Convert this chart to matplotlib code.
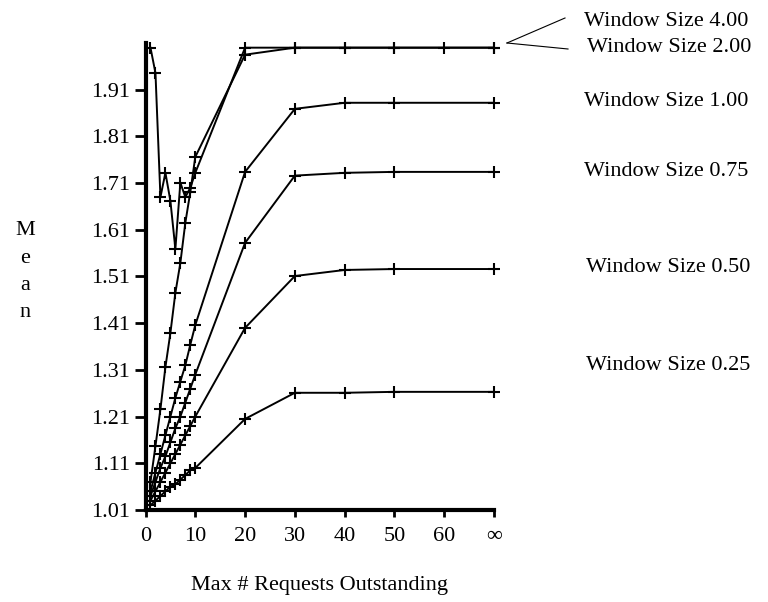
import numpy as np
import matplotlib
matplotlib.use("Agg")
import matplotlib.pyplot as plt

plt.rcParams['font.family'] = ['Liberation Serif', 'DejaVu Serif']

# x = max requests outstanding (70 stands for infinity)
x_main = [1, 2, 3, 4, 5, 6, 7, 8, 9, 10, 20, 30, 40, 50, 70]
x_w400 = [1, 2, 3, 4, 5, 6, 7, 8, 9, 10, 20, 30, 40, 50, 60, 70]

w400 = [2.00, 1.946, 1.68, 1.732, 1.672, 1.569, 1.711, 1.68, 1.70, 1.732,
        2.00, 2.00, 2.00, 2.00, 2.00, 2.00]
w200 = [1.07, 1.147, 1.226, 1.316, 1.389, 1.475, 1.539, 1.625, 1.691, 1.766,
        1.985, 2.00, 2.00, 2.00, 2.00]
w100 = [1.05, 1.09, 1.13, 1.17, 1.21, 1.25, 1.285, 1.32, 1.364, 1.406,
        1.734, 1.869, 1.882, 1.882, 1.882]
w075 = [1.04, 1.07, 1.10, 1.125, 1.155, 1.185, 1.21, 1.24, 1.27, 1.30,
        1.582, 1.726, 1.732, 1.734, 1.734]
w050 = [1.03, 1.05, 1.07, 1.09, 1.11, 1.13, 1.15, 1.17, 1.19, 1.21,
        1.40, 1.511, 1.524, 1.526, 1.526]
w025 = [1.02, 1.03, 1.04, 1.05, 1.06, 1.065, 1.075, 1.085, 1.095, 1.10,
        1.205, 1.261, 1.261, 1.263, 1.263]

x_ticks = [0, 10, 20, 30, 40, 50, 60, 70]
x_tick_labels = ["0", "10", "20", "30", "40", "50", "60", "\u221e"]
y_ticks = [1.01, 1.11, 1.21, 1.31, 1.41, 1.51, 1.61, 1.71, 1.81, 1.91]

W, H = 768, 602
fig = plt.figure(figsize=(W / 100, H / 100), dpi=100)
ax = fig.add_axes([145.5 / W, 1 - 510 / H, (494 - 145.5) / W, (510 - 43) / H])

style = dict(color="black", lw=1.4, marker="+", ms=8, mew=1.5, clip_on=False)
ax.plot(x_w400, w400, **style)
ax.plot(x_main, w200, **style)
ax.plot(x_main, w100, **style)
ax.plot(x_main, w075, **style)
ax.plot(x_main, w050, **style)
ax.plot(x_main, w025, **style)

ax.set_xlim(0, 70)
ax.set_ylim(1.01, 2.01)
ax.set_xticks(x_ticks)
ax.set_xticklabels(x_tick_labels)
ax.set_yticks(y_ticks)
ax.set_yticklabels(["%.2f" % v for v in y_ticks])
ax.tick_params(axis="both", direction="out", width=2, labelsize=16, color="black")
ax.tick_params(axis="x", length=5, pad=7)
ax.tick_params(axis="y", length=8, pad=3)

for side in ["top", "right"]:
    ax.spines[side].set_visible(False)
for side in ["left", "bottom"]:
    ax.spines[side].set_linewidth(3)

ax.set_xlabel("Max # Requests Outstanding", fontsize=16, labelpad=22)
ax.set_ylabel("M\ne\na\nn", fontsize=16, rotation=0, ha="center", va="center",
              linespacing=1.6)
ax.yaxis.set_label_coords(-0.346, 0.51)

# series labels to the right
labels = [("Window Size 4.00", 584, 21), ("Window Size 2.00", 587, 48),
          ("Window Size 1.00", 584, 101), ("Window Size 0.75", 584, 171),
          ("Window Size 0.50", 586, 268), ("Window Size 0.25", 586, 365)]
for txt, px, py in labels:
    fig.text(px / W, 1 - py / H, txt, fontsize=16, ha="left", va="center")

# leader lines for the two top labels
fig.add_artist(plt.Line2D([507 / W, 565 / W], [1 - 43 / H, 1 - 18 / H], color="black", lw=0.8))
fig.add_artist(plt.Line2D([507 / W, 568 / W], [1 - 43 / H, 1 - 49 / H], color="black", lw=0.8))

fig.savefig("out.png", dpi=100)
